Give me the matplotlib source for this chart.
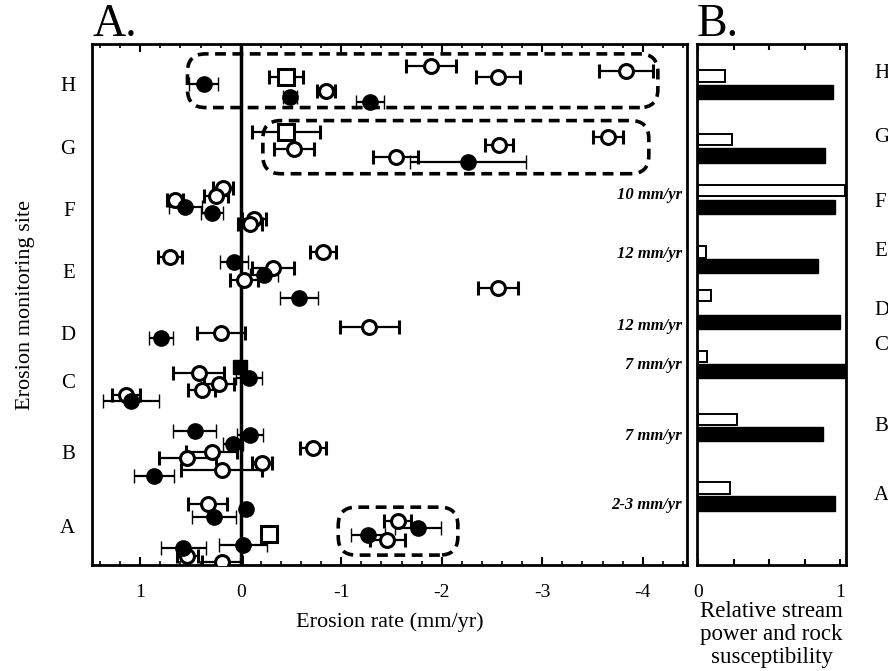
import matplotlib
matplotlib.use("Agg")
import matplotlib.pyplot as plt
from matplotlib.patches import FancyBboxPatch
from matplotlib.ticker import MultipleLocator, FixedLocator
from matplotlib.transforms import blended_transform_factory

plt.rcParams['font.family'] = ['Liberation Serif', 'DejaVu Serif']

# ---------------- data ----------------
sites = ["A", "B", "C", "D", "E", "F", "G", "H"]
site_pos = [0.75, 2.16, 3.54, 4.45, 5.64, 6.83, 8.03, 9.235]

# open circles: erosion rate, error, vertical position
open_x = [-1.89, -2.56, -3.83, -0.85,
          -0.53, -1.54, -2.57, -3.65,
          0.18, 0.25, 0.65, -0.13, -0.09,
          0.70, -0.82, -0.32, -0.03, -2.56,
          -1.28, 0.20,
          0.42, 0.22, 0.39, 1.14,
          -0.72, 0.29, 0.53, -0.21, 0.19,
          0.33, 0.53, 0.19, -1.56, -1.46]
open_err = [0.25, 0.22, 0.27, 0.09,
            0.20, 0.22, 0.14, 0.15,
            0.10, 0.12, 0.08, 0.12, 0.12,
            0.12, 0.13, 0.21, 0.14, 0.20,
            0.29, 0.24,
            0.25, 0.15, 0.13, 0.14,
            0.13, 0.25, 0.28, 0.10, 0.40,
            0.19, 0.10, 0.20, 0.13, 0.17]
open_y = [9.58, 9.37, 9.48, 9.10,
          7.99, 7.84, 8.07, 8.22,
          7.23, 7.09, 7.00, 6.65, 6.54,
          5.91, 6.00, 5.70, 5.47, 5.32,
          4.57, 4.46,
          3.69, 3.48, 3.35, 3.27,
          2.24, 2.16, 2.05, 1.95, 1.82,
          1.17, 0.17, 0.06, 0.84, 0.48]

# filled circles
fill_x = [0.37, -0.49, -1.29,
          -2.26,
          0.55, 0.29,
          0.07, -0.23, -0.58,
          0.79,
          -0.08, 1.09,
          0.46, -0.09, 0.08, 0.86,
          -0.05, 0.27, -0.02, 0.57, -1.76, -1.27]
fill_err = [0.14, 0.07, 0.14,
            0.58,
            0.16, 0.11,
            0.14, 0.14, 0.19,
            0.12,
            0.13, 0.28,
            0.21, 0.13, 0.10, 0.20,
            0.03, 0.22, 0.24, 0.22, 0.23, 0.17]
fill_y = [9.24, 8.99, 8.89,
          7.74,
          6.88, 6.75,
          5.81, 5.56, 5.12,
          4.36,
          3.59, 3.14,
          2.58, 2.49, 2.33, 1.70,
          1.07, 0.92, 0.38, 0.33, 0.71, 0.57]

# open squares
sq_x = [-0.45, -0.45, -0.28]
sq_err = [0.17, 0.34, 0.05]
sq_y = [9.37, 8.32, 0.59]

# filled squares
fsq_x = [0.01]
fsq_err = [0.05]
fsq_y = [3.80]

# dashed group boxes: (x_left, x_right, y_bottom, y_top)
box_x0 = [0.53, -0.22, -0.97]
box_x1 = [-4.15, -4.06, -2.16]
box_y0 = [8.78, 7.51, 0.19]
box_y1 = [9.81, 8.53, 1.11]

# annotations
ann_text = ["10 mm/yr", "12 mm/yr", "12 mm/yr", "7 mm/yr", "7 mm/yr", "2-3 mm/yr"]
ann_y = [7.11, 5.97, 4.59, 3.84, 2.47, 1.15]

# panel B bars
bar_open_y = [1.48, 2.79, 4.00, 5.17, 6.01, 7.19, 8.17, 9.39]
bar_open_v = [0.22, 0.27, 0.06, 0.09, 0.05, 1.03, 0.24, 0.19]
bar_fill_y = [1.18, 2.51, 3.73, 4.66, 5.74, 6.87, 7.86, 9.08]
bar_fill_v = [0.96, 0.88, 1.03, 1.00, 0.84, 0.96, 0.89, 0.95]
b_label_y = [1.34, 2.65, 4.22, 4.89, 6.01, 6.95, 8.21, 9.44]

# ---------------- figure ----------------
W, H = 888, 671
fig = plt.figure(figsize=(W / 100, H / 100), dpi=100)
fig.patch.set_facecolor('white')

axA = fig.add_axes([92 / W, 1 - 565 / H, (687 - 92) / W, (565 - 44) / H])
axB = fig.add_axes([697 / W, 1 - 565 / H, (846 - 697) / W, (565 - 44) / H])

XL = (1.48, -4.44)
axA.set_xlim(*XL)
axA.set_ylim(0, 10)

axA.axvline(0, color='black', lw=2.5, zorder=1)

ekw = dict(ls='none', ecolor='black', elinewidth=1.6, capsize=5, capthick=1.6, zorder=3)
axA.errorbar(open_x, open_y, xerr=open_err, marker='o', ms=10, mfc='white',
             mec='black', mew=2.2, **ekw)
axA.errorbar(fill_x, fill_y, xerr=fill_err, marker='o', ms=11, mfc='black',
             mec='black', mew=1, **ekw)
axA.errorbar(sq_x, sq_y, xerr=sq_err, marker='s', ms=11, mfc='white',
             mec='black', mew=2.2, **ekw)
axA.errorbar(fsq_x, fsq_y, xerr=fsq_err, marker='s', ms=10, mfc='black',
             mec='black', mew=1, **ekw)

# dashed rounded boxes
px_x = (687 - 92) / abs(XL[1] - XL[0])
px_y = (565 - 44) / 10.0
aspect = px_x / px_y
for x0, x1, y0, y1 in zip(box_x0, box_x1, box_y0, box_y1):
    xl, xr = min(x0, x1), max(x0, x1)
    r = 18 / px_x
    p = FancyBboxPatch((xl, y0), xr - xl, y1 - y0,
                       boxstyle=f"round,pad=0,rounding_size={r}",
                       mutation_aspect=aspect, fill=False, ec='black',
                       lw=2.6, ls=(0, (3, 1.8)), zorder=2)
    axA.add_patch(p)

for t, y in zip(ann_text, ann_y):
    axA.text(-4.39, y, t, ha='right', va='center', fontsize=12,
             style='italic', fontweight='bold')

axA.set_yticks(site_pos)
axA.set_yticklabels(sites, fontsize=15)
axA.tick_params(axis='y', length=0, pad=12)
axA.xaxis.set_major_locator(FixedLocator([1, 0, -1, -2, -3, -4]))
axA.xaxis.set_minor_locator(MultipleLocator(0.2))
axA.set_xticklabels(['1', '0', '-1', '-2', '-3', '-4'], fontsize=14)
axA.tick_params(axis='x', which='major', direction='in', length=6, width=1.5,
                top=True, pad=14)
axA.tick_params(axis='x', which='minor', direction='in', length=3, width=1.2,
                top=True)
axA.set_xlabel('Erosion rate (mm/yr)', fontsize=16, labelpad=8)
axA.set_ylabel('Erosion monitoring site', fontsize=16, labelpad=18)
for s in axA.spines.values():
    s.set_linewidth(2)

# panel B
axB.set_xlim(-0.01, 1.04)
axB.set_ylim(0, 10)
axB.barh(bar_open_y, bar_open_v, height=0.22, left=0, color='white',
         edgecolor='black', lw=1.4)
axB.barh(bar_fill_y, bar_fill_v, height=0.27, left=0, color='black',
         edgecolor='black', lw=1)
axB.set_yticks([])
axB.xaxis.set_major_locator(FixedLocator([0, 1]))
axB.xaxis.set_minor_locator(FixedLocator([0.25, 0.5, 0.75]))
axB.set_xticklabels(['0', '1'], fontsize=14)
axB.tick_params(axis='x', which='both', direction='in', length=4, width=1.5,
                top=True, pad=14)
axB.set_xlabel('Relative stream\npower and rock\nsusceptibility',
               fontsize=16.5, labelpad=0, linespacing=1.12)
for s in axB.spines.values():
    s.set_linewidth(2)

lab_tr = blended_transform_factory(fig.transFigure, axB.transData)
for lab, y in zip(sites, b_label_y):
    axB.text(874 / W, y, lab, transform=lab_tr, ha='left', va='center',
             fontsize=15, clip_on=False)

fig.text(92 / W, 1 - 25 / H, 'A.', fontsize=33, ha='left', va='center')
fig.text(697 / W, 1 - 25 / H, 'B.', fontsize=33, ha='left', va='center')

fig.savefig('out.png', dpi=100, facecolor='white')
